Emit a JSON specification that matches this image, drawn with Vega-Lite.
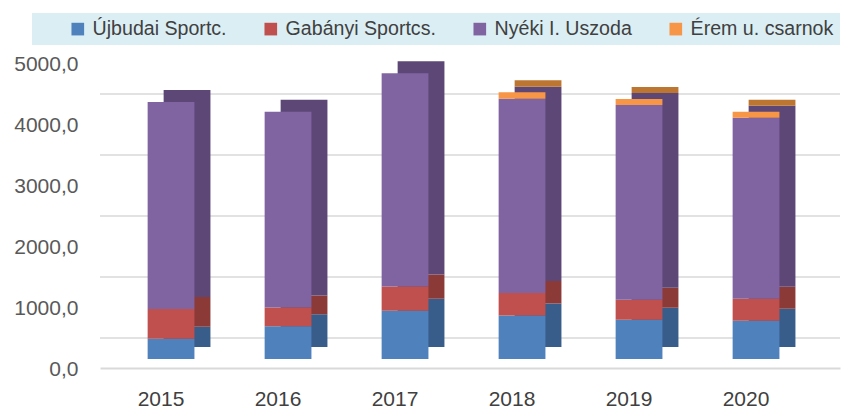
{
  "$schema": "https://vega.github.io/schema/vega-lite/v6.json",
  "width": 740,
  "height": 305,
  "autosize": {"type": "none"},
  "padding": {"left": 100, "top": 54, "right": 19, "bottom": 51},
  "background": "white",
  "config": {"view": {"stroke": null}, "font": "Liberation Sans"},
  "datasets": {
    "bars": [
      {"year": "2015", "series": "Újbudai Sportc.", "value": 330},
      {"year": "2015", "series": "Gabányi Sportcs.", "value": 490},
      {"year": "2015", "series": "Nyéki I. Uszoda", "value": 3395},
      {"year": "2016", "series": "Újbudai Sportc.", "value": 535},
      {"year": "2016", "series": "Gabányi Sportcs.", "value": 311},
      {"year": "2016", "series": "Nyéki I. Uszoda", "value": 3206},
      {"year": "2017", "series": "Újbudai Sportc.", "value": 792},
      {"year": "2017", "series": "Gabányi Sportcs.", "value": 398},
      {"year": "2017", "series": "Nyéki I. Uszoda", "value": 3493},
      {"year": "2018", "series": "Újbudai Sportc.", "value": 715},
      {"year": "2018", "series": "Gabányi Sportcs.", "value": 367},
      {"year": "2018", "series": "Nyéki I. Uszoda", "value": 3185},
      {"year": "2018", "series": "Érem u. csarnok", "value": 105},
      {"year": "2019", "series": "Újbudai Sportc.", "value": 644},
      {"year": "2019", "series": "Gabányi Sportcs.", "value": 328},
      {"year": "2019", "series": "Nyéki I. Uszoda", "value": 3192},
      {"year": "2019", "series": "Érem u. csarnok", "value": 98},
      {"year": "2020", "series": "Újbudai Sportc.", "value": 628},
      {"year": "2020", "series": "Gabányi Sportcs.", "value": 361},
      {"year": "2020", "series": "Nyéki I. Uszoda", "value": 2967},
      {"year": "2020", "series": "Érem u. csarnok", "value": 98}
    ],
    "grid": [{"v": 0}, {"v": 1000}, {"v": 2000}, {"v": 3000}, {"v": 4000}, {"v": 5000}]
  },
  "layer": [
    {
      "data": {"name": "grid"},
      "mark": {"type": "rule", "color": "#d9d9d9", "strokeWidth": 1.5, "yOffset": -21},
      "encoding": {
        "y": {
          "field": "v", "type": "quantitative",
          "scale": {"domain": [0, 5000], "nice": false, "zero": true},
          "axis": {"values": [0, 1000, 2000, 3000, 4000, 5000], "grid": false, "domain": false, "ticks": false, "labelPadding": 22, "labelOffset": 10, "labelFontSize": 21, "labelColor": "#595959", "labelExpr": "replace(format(datum.value, '.1f'), '.', ',')", "title": null}
        }
      }
    },
    {
      "data": {"name": "bars"},
      "transform": [{"window": [{"op": "row_number", "as": "rn"}]}],
      "mark": {"type": "bar", "width": {"band": 0.4}, "xOffset": 16, "yOffset": -12},
      "encoding": {
        "x": {
          "field": "year", "type": "nominal",
          "scale": {"paddingInner": 0, "paddingOuter": 0.1624, "align": 0.33},
          "axis": {"title": null, "labelAngle": 0, "ticks": false, "offset": 9, "domainColor": "#d9d9d9", "domainWidth": 2, "labelFontSize": 21, "labelColor": "#404040", "labelPadding": 20, "labelOffset": -10, "grid": false}
        },
        "y": {
          "field": "value", "type": "quantitative", "stack": "zero",
          "axis": {"values": [0, 1000, 2000, 3000, 4000, 5000], "grid": false, "domain": false, "ticks": false, "labelPadding": 22, "labelOffset": 10, "labelFontSize": 21, "labelColor": "#595959", "labelExpr": "replace(format(datum.value, '.1f'), '.', ',')", "title": null}
        },
        "order": {"field": "rn", "type": "quantitative"},
        "color": {
          "field": "series", "type": "nominal",
          "scale": {"domain": ["Újbudai Sportc.", "Gabányi Sportcs.", "Nyéki I. Uszoda", "Érem u. csarnok"], "range": ["#385d8a", "#8c3a37", "#5c4777", "#bd7632"]},
          "legend": null
        }
      }
    },
    {
      "data": {"name": "bars"},
      "transform": [{"window": [{"op": "row_number", "as": "rn"}]}],
      "mark": {"type": "bar", "width": {"band": 0.4}},
      "encoding": {
        "x": {
          "field": "year", "type": "nominal",
          "scale": {"paddingInner": 0, "paddingOuter": 0.1624, "align": 0.33},
          "axis": {"title": null, "labelAngle": 0, "ticks": false, "offset": 9, "domainColor": "#d9d9d9", "domainWidth": 2, "labelFontSize": 21, "labelColor": "#404040", "labelPadding": 20, "labelOffset": -10, "grid": false}
        },
        "y": {
          "field": "value", "type": "quantitative", "stack": "zero",
          "axis": {"values": [0, 1000, 2000, 3000, 4000, 5000], "grid": false, "domain": false, "ticks": false, "labelPadding": 22, "labelOffset": 10, "labelFontSize": 21, "labelColor": "#595959", "labelExpr": "replace(format(datum.value, '.1f'), '.', ',')", "title": null}
        },
        "order": {"field": "rn", "type": "quantitative"},
        "color": {
          "field": "series", "type": "nominal",
          "scale": {"domain": ["Újbudai Sportc.", "Gabányi Sportcs.", "Nyéki I. Uszoda", "Érem u. csarnok"], "range": ["#4f81bd", "#c0504d", "#8064a2", "#f79646"]},
          "legend": {"orient": "none", "legendX": -68, "legendY": -41, "direction": "horizontal", "title": " ", "titleOrient": "left", "titlePadding": 30, "titleFontSize": 10, "fillColor": "#dbeef4", "padding": 6, "symbolType": "square", "symbolSize": 160, "symbolStrokeWidth": 0, "labelFontSize": 19.6, "labelColor": "#404040", "labelOffset": 5, "columnPadding": 34, "labelLimit": 300}
        }
      }
    }
  ],
  "resolve": {"scale": {"color": "independent"}}
}
